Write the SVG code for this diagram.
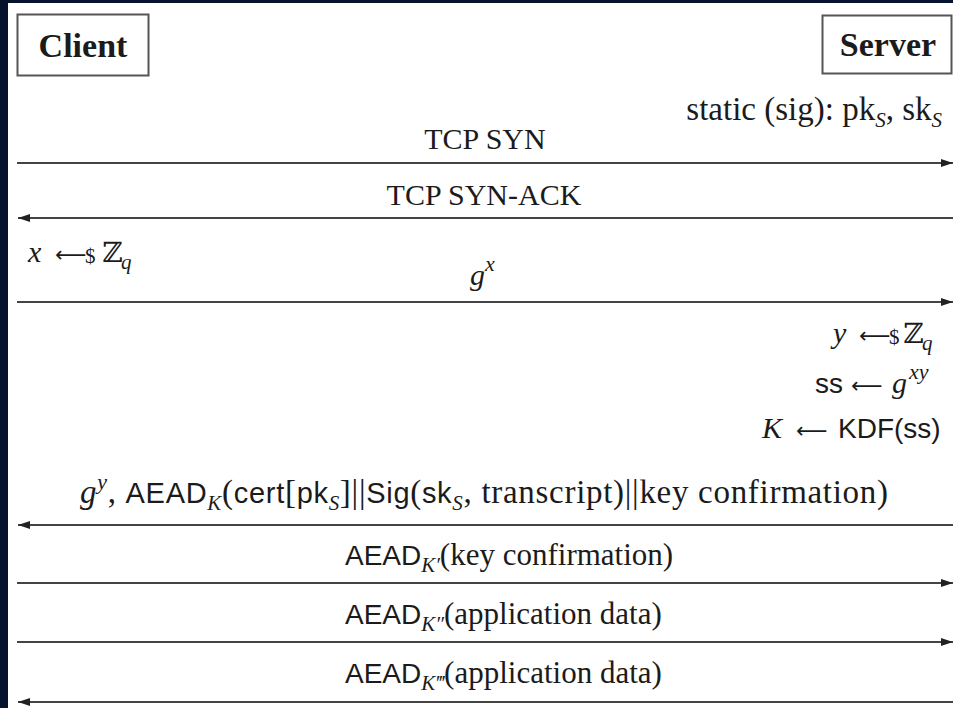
<svg xmlns="http://www.w3.org/2000/svg" width="953" height="708" viewBox="0 0 953 708">
  <defs>
    <marker id="head" markerUnits="userSpaceOnUse" markerWidth="13" markerHeight="9" refX="12" refY="4" orient="auto">
      <path d="M0,0 L12,4 L0,8 z" fill="#222"/>
    </marker>
    <style>
      .t { font-family: "Liberation Serif", "DejaVu Serif", serif; font-size: 30px; fill: #1b1b1b; }
      .b { font-weight: bold; font-size: 34px; }
      .sf { font-family: "Liberation Sans", "DejaVu Sans", sans-serif; font-size: 28px; }
      .it { font-style: italic; }
      .sub { font-size: 21px; }
      .sup { font-size: 22px; }
      .bb { font-family: "DejaVu Serif", serif; font-size: 28px; }
      .arr { font-family: "DejaVu Sans", sans-serif; font-size: 22px; }
      .big { font-size: 33px; }
      .mid { font-size: 31px; }
      .sf29 { font-size: 29px; }
      .box { fill: #fff; stroke: #555; stroke-width: 2; }
      .msg { stroke: #444; stroke-width: 2.2; fill: none; marker-end: url(#head); }
    </style>
  </defs>

  <!-- frame -->
  <rect x="0" y="0" width="953" height="708" fill="#07132c"/>
  <rect x="8" y="3" width="945" height="705" fill="#ffffff"/>

  <!-- parties -->
  <g id="client">
    <rect class="box" x="17.5" y="14.5" width="131" height="61"/>
    <text class="t b" x="83" y="57" text-anchor="middle">Client</text>
  </g>
  <g id="server">
    <rect class="box" x="822.5" y="15.5" width="129" height="58"/>
    <text class="t b" x="888" y="56" text-anchor="middle">Server</text>
  </g>

  <!-- local computations -->
  <g id="server-keys">
    <text class="t big" x="942" y="120" text-anchor="end">static (sig): pk<tspan class="it sub" dy="7">S</tspan><tspan dy="-7">, sk</tspan><tspan class="it sub" dy="7">S</tspan></text>
  </g>
  <g id="client-sample">
    <text class="t" y="262"><tspan class="it" x="28">x</tspan><tspan class="arr" x="55">⟵</tspan><tspan class="sub" x="85" dy="1">$</tspan><tspan class="bb" x="102" dy="-1">ℤ</tspan><tspan class="it sub" x="121" dy="7">q</tspan></text>
  </g>
  <g id="server-compute">
    <text class="t" y="343"><tspan class="it" x="833">y</tspan><tspan class="arr" x="859">⟵</tspan><tspan class="sub" x="889" dy="1">$</tspan><tspan class="bb" x="903" dy="-1">ℤ</tspan><tspan class="it sub" x="922" dy="7">q</tspan></text>
    <text class="t" y="393"><tspan class="sf" x="815">ss</tspan><tspan class="arr" x="851">⟵</tspan><tspan class="it" x="892">g</tspan><tspan class="it sup" x="909" dy="-14">xy</tspan></text>
    <text class="t" y="438"><tspan class="it" x="762">K</tspan><tspan class="arr" x="796">⟵</tspan><tspan class="sf" x="838">KDF(ss)</tspan></text>
  </g>

  <!-- message labels -->
  <g id="labels">
    <text class="t" x="485" y="149" text-anchor="middle">TCP SYN</text>
    <text class="t" x="484" y="205" text-anchor="middle">TCP SYN-ACK</text>
    <text class="t" x="470" y="285"><tspan class="it">g</tspan><tspan class="it sup" dy="-14">x</tspan></text>
    <text class="t big" x="80" y="503" textLength="808" lengthAdjust="spacing"><tspan class="it">g</tspan><tspan class="it sup" dy="-14">y</tspan><tspan dy="14">, </tspan><tspan class="sf sf29">AEAD</tspan><tspan class="it sub" dy="7">K</tspan><tspan dy="-7">(</tspan><tspan class="sf sf29">cert</tspan>[<tspan class="sf sf29">pk</tspan><tspan class="it sub" dy="7">S</tspan><tspan dy="-7">]||</tspan><tspan class="sf sf29">Sig</tspan>(<tspan class="sf sf29">sk</tspan><tspan class="it sub" dy="7">S</tspan><tspan dy="-7">, transcript)||key confirmation)</tspan></text>
    <text class="t mid" x="345" y="565"><tspan class="sf">AEAD</tspan><tspan class="it sub" dy="7">K′</tspan><tspan dy="-7">(key confirmation)</tspan></text>
    <text class="t mid" x="345" y="624"><tspan class="sf">AEAD</tspan><tspan class="it sub" dy="7">K″</tspan><tspan dy="-7">(application data)</tspan></text>
    <text class="t mid" x="345" y="683"><tspan class="sf">AEAD</tspan><tspan class="it sub" dy="7">K‴</tspan><tspan dy="-7">(application data)</tspan></text>
  </g>

  <!-- connectors -->
  <g id="connectors">
    <line class="msg" x1="17" y1="163" x2="953" y2="163"/>
    <line class="msg" x1="953" y1="218" x2="18" y2="218"/>
    <line class="msg" x1="17" y1="302" x2="953" y2="302"/>
    <line class="msg" x1="953" y1="525" x2="18" y2="525"/>
    <line class="msg" x1="17" y1="583" x2="953" y2="583"/>
    <line class="msg" x1="17" y1="642" x2="953" y2="642"/>
    <line class="msg" x1="953" y1="702" x2="18" y2="702"/>
  </g>
</svg>
